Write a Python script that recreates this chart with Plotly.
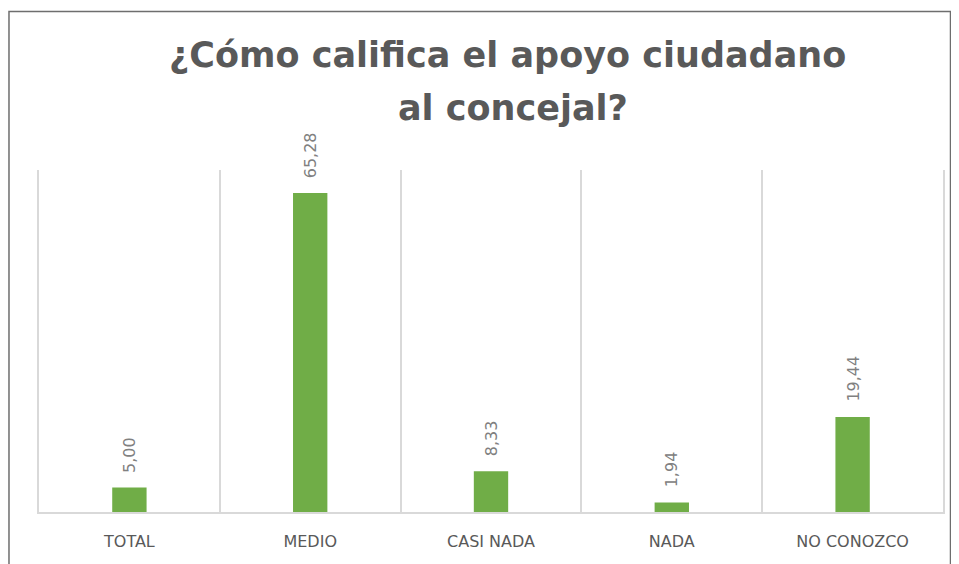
import plotly.graph_objects as go

# Survey results (percent)
categories = ["TOTAL", "MEDIO", "CASI NADA", "NADA", "NO CONOZCO"]
values = [5.00, 65.28, 8.33, 1.94, 19.44]
title_lines = ["¿Cómo califica el apoyo ciudadano", "al concejal?"]

BAR_GREEN = "#70AD47"
GREY_TEXT = "#595959"
GRID = "#d9d9d9"

fig = go.Figure()
fig.add_trace(
    go.Bar(
        x=categories,
        y=values,
        marker=dict(color=BAR_GREEN, line=dict(width=0)),
        width=0.19,
        hoverinfo="x+y",
    )
)

# value labels, rotated like the Excel data labels
for cat, val in zip(categories, values):
    fig.add_annotation(
        x=cat, y=val, xref="x", yref="y",
        text=f"{val:.2f}".replace(".", ","),
        textangle=-90,
        showarrow=False,
        yanchor="bottom",
        yshift=13,
        font=dict(family="DejaVu Sans", size=16, color="#808080"),
    )

# title, two lines
title_font = dict(family="DejaVu Sans", size=35, color=GREY_TEXT, weight="bold")
fig.add_annotation(
    x=0.518, y=1.336, xref="paper", yref="paper",
    text=title_lines[0], showarrow=False, yanchor="middle", font=title_font,
)
fig.add_annotation(
    x=0.524, y=1.181, xref="paper", yref="paper",
    text=title_lines[1], showarrow=False, yanchor="middle", font=title_font,
)

# chart area border
fig.add_shape(
    type="rect", xref="paper", yref="paper",
    x0=-0.0332, x1=1.0083, y0=-0.3, y1=1.4635,
    line=dict(color="#6e6e6e", width=1.5),
    fillcolor="rgba(0,0,0,0)",
)

# page body has an 8px margin, so the figure is a bit smaller than the window
fig.update_layout(
    width=951,
    height=556,
    margin=dict(l=31, r=16, t=162, b=52),
    paper_bgcolor="white",
    plot_bgcolor="white",
    showlegend=False,
    separators=",.",
    font=dict(family="DejaVu Sans", color=GREY_TEXT),
    bargap=0.8,
)
fig.update_xaxes(
    tickson="boundaries",
    showgrid=True,
    gridcolor=GRID,
    gridwidth=1.5,
    showline=True,
    linecolor=GRID,
    linewidth=2,
    ticks="",
    tickfont=dict(family="DejaVu Sans", size=16, color=GREY_TEXT),
    ticklabelstandoff=14,
)
# y axis hidden, but its line (mirrored) gives the outer category boundaries
fig.update_yaxes(
    range=[0, 70],
    showgrid=False,
    showticklabels=False,
    zeroline=False,
    showline=True,
    mirror=True,
    linecolor=GRID,
    linewidth=1.5,
)

fig.write_html("out.html")
